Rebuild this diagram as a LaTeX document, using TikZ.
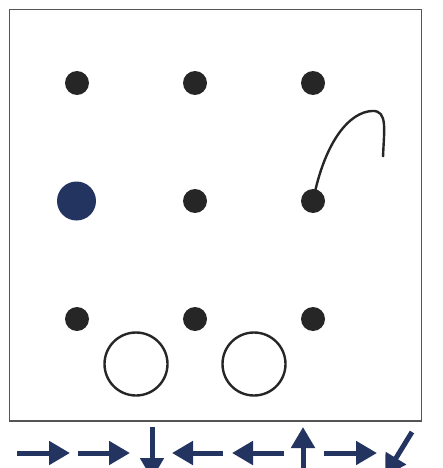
\documentclass[tikz,border=0pt]{standalone}
\usetikzlibrary{arrows.meta}
\definecolor{navy}{HTML}{233461}
\definecolor{ink}{HTML}{262626}
\definecolor{framegray}{HTML}{555555}

\begin{document}
\begin{tikzpicture}[x=1pt, y=-1pt,
    dot/.style={circle, fill=ink, minimum size=24pt, inner sep=0pt},
    bigdot/.style={circle, fill=navy, minimum size=39pt, inner sep=0pt},
    ring/.style={circle, draw=ink, line width=2.4pt, minimum size=63pt, inner sep=0pt},
    dirarrow/.style={navy, line width=5pt, -{Triangle[length=21pt, width=23pt]}}]
    \useasboundingbox (0,0) rectangle (443,468);
    \clip (0,0) rectangle (443,468);
    \draw[framegray, line width=1.6pt] (9.5,9.5) rectangle (421.5,421);
    % grid of dots
    \node[dot] (d11) at (77,83) {};
    \node[dot] (d12) at (195,83) {};
    \node[dot] (d13) at (313,83) {};
    \node[bigdot] (d21) at (76.5,201) {};
    \node[dot] (d22) at (195,201) {};
    \node[dot] (d23) at (313,201) {};
    \node[dot] (d31) at (77,319) {};
    \node[dot] (d32) at (195,319) {};
    \node[dot] (d33) at (313,319) {};
    \node[ring] (r1) at (136,364) {};
    \node[ring] (r2) at (254,364) {};
    % curve
    \coordinate (tail) at (383,157);
    \draw[ink, line width=2.4pt] (d23.center) .. controls (325,140) and (350,112) .. (372,111)
        .. controls (388,110) and (384,130) .. (tail);
    % directions
    \draw[dirarrow] (17,453) -- (70,453);
    \draw[dirarrow] (78,453) -- (130,453);
    \draw[dirarrow] (152,427) -- (152,479);
    \draw[dirarrow] (223,453) -- (172,453);
    \draw[dirarrow] (284,453) -- (232,453);
    \draw[dirarrow] (303,480) -- (303,427);
    \draw[dirarrow] (324,453) -- (377,453);
    \draw[dirarrow] (412,432) -- (385,476);
\end{tikzpicture}
\end{document}
